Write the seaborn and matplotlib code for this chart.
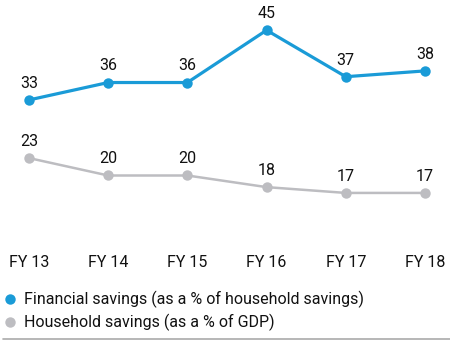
import matplotlib
matplotlib.use("Agg")
import matplotlib.pyplot as plt
import seaborn as sns
import pandas as pd
from matplotlib.lines import Line2D

years = ["FY 13", "FY 14", "FY 15", "FY 16", "FY 17", "FY 18"]
financial = [33, 36, 36, 45, 37, 38]
household = [23, 20, 20, 18, 17, 17]
series_names = ["Financial savings (as a % of household savings)",
                "Household savings (as a % of GDP)"]

blue = "#1a9bd7"
grey = "#bdbdc1"

sns.set_theme(style="white")
FONT = ["Liberation Sans Narrow", "Roboto", "DejaVu Sans"]
plt.rcParams["font.family"] = FONT

fig = plt.figure(figsize=(4.5, 3.46), dpi=100)
ax = fig.add_axes([0, 1 - 240 / 346, 1, 240 / 346])

df_f = pd.DataFrame({"year": years, "value": financial})
df_h = pd.DataFrame({"year": years, "value": household})

sns.lineplot(data=df_f, x="year", y="value", ax=ax, color=blue, lw=2.3,
             marker="o", markersize=7.5, markeredgewidth=0, sort=False)
sns.lineplot(data=df_h, x="year", y="value", ax=ax, color=grey, lw=1.8,
             marker="o", markersize=7.5, markeredgewidth=0, sort=False)

for vals in (financial, household):
    for i, v in enumerate(vals):
        ax.annotate(str(v), (i, v), xytext=(0, 6.5), textcoords="offset points",
                    ha="center", va="bottom", fontsize=11.5, color="#111111")

ax.set_xlim(-0.366, 5.316)
ax.set_ylim(8.9, 50.2)
ax.set_xlabel("")
ax.set_ylabel("")
ax.set_yticks([])
ax.tick_params(axis="x", length=0, pad=11, labelsize=11.5, labelcolor="#111111")
for s in ax.spines.values():
    s.set_visible(False)

handles = [Line2D([], [], ls="none", marker="o", color=blue, markersize=7.5, markeredgewidth=0),
           Line2D([], [], ls="none", marker="o", color=grey, markersize=7.5, markeredgewidth=0)]
fig.legend(handles, series_names, loc="upper left", bbox_to_anchor=(0.0, 1 - 288 / 346),
           frameon=False, handlelength=0.8, handletextpad=0.5, borderaxespad=0,
           borderpad=0.2, labelspacing=0.35, fontsize=11.5, labelcolor="#111111")

fig.add_artist(Line2D([3 / 450, 1], [1 - 339 / 346] * 2, color="#aaaaaa", lw=1.2,
                      transform=fig.transFigure))

fig.savefig("out.png", dpi=100)
